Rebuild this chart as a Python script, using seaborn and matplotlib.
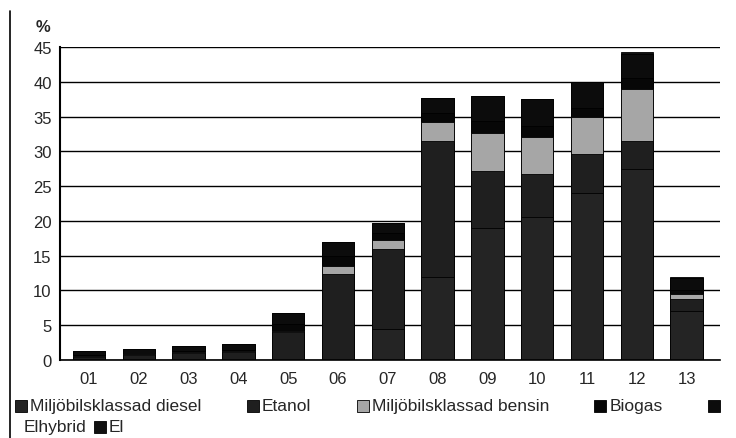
import matplotlib
matplotlib.use('Agg')
import matplotlib.pyplot as plt
import seaborn as sns
import numpy as np
import pandas as pd
from matplotlib.patches import Rectangle
from matplotlib.lines import Line2D

# data (andel %)
years = ['01', '02', '03', '04', '05', '06', '07', '08', '09', '10', '11', '12', '13']
diesel = [0, 0, 0, 0, 0, 0, 4.5, 12.0, 19.0, 20.5, 24.0, 27.5, 7.0]
etanol = [0.5, 0.7, 1.0, 1.2, 4.0, 12.3, 11.4, 19.5, 8.2, 6.2, 5.6, 4.0, 1.8]
bensin = [0.1, 0.1, 0.1, 0.1, 0.2, 1.2, 1.4, 2.7, 5.5, 5.4, 5.4, 7.5, 0.7]
biogas = [0.1, 0.1, 0.2, 0.2, 1.0, 1.5, 1.0, 1.3, 1.6, 1.5, 1.3, 1.6, 0.6]
elhybrid = [0.6, 0.7, 0.7, 0.8, 1.6, 2.0, 1.4, 2.2, 3.6, 3.9, 3.7, 3.4, 1.7]
el = [0, 0, 0, 0, 0, 0, 0, 0, 0, 0, 0, 0.3, 0.2]

names = ['Miljöbilsklassad diesel', 'Etanol', 'Miljöbilsklassad bensin', 'Biogas', 'Elhybrid', 'El']
colors = ['#242424', '#1f1f1f', '#a6a6a6', '#070707', '#0c0c0c', '#111111']

sns.set_style('white')
plt.rcParams['font.family'] = ['Liberation Sans', 'DejaVu Sans']

df = pd.DataFrame({'year': years, names[0]: diesel, names[1]: etanol, names[2]: bensin,
                   names[3]: biogas, names[4]: elhybrid, names[5]: el})
cum = df[names].cumsum(axis=1)

fig = plt.figure(figsize=(7.36, 4.39), dpi=100)
ax = fig.add_axes([60/736, 78/439, 660/736, 313/439])

# stapla genom att rita kumulativa summor uppifrån och ned
for name, c in reversed(list(zip(names, colors))):
    sns.barplot(x=df['year'], y=cum[name], color=c, width=0.65, saturation=1,
                edgecolor='black', linewidth=0.6, ax=ax, zorder=2)

ax.set_ylim(0, 45)
ax.set_xlim(-0.58, 12.67)
ax.set_yticks(np.arange(0, 46, 5))
ax.set_xticks(np.arange(-0.5, 13, 1), minor=True)
ax.set_xlabel('')
ax.set_ylabel('')
ax.set_axisbelow(True)
ax.yaxis.grid(True, color='black', linewidth=1.0)
ax.xaxis.grid(False)

for s in ['top', 'right']:
    ax.spines[s].set_visible(False)
ax.spines['left'].set_color('black')
ax.spines['left'].set_linewidth(1.5)
ax.spines['bottom'].set_color('black')
ax.spines['bottom'].set_linewidth(1.2)

ax.tick_params(axis='y', length=5, width=1, color='black', pad=1, labelsize=12)
ax.tick_params(axis='x', which='major', length=0, pad=8, labelsize=12)
ax.tick_params(axis='x', which='minor', length=5, width=1.2, color='black', direction='out')

fig.text(43/736, 1 - 28/439, '%', ha='center', va='center', fontsize=12, fontweight='bold')

# vänster kantlinje från inskanningen
fig.add_artist(Line2D([10/736, 10/736], [0, 1 - 12/439], color='black', linewidth=1.2))

# legend som löpande text över två rader
fig.canvas.draw()
renderer = fig.canvas.get_renderer()
W, H = 736, 439
fs = 12.5
sq = 12


def put_square(x, y, c):
    fig.add_artist(Rectangle((x / W, (H - y - sq / 2) / H), sq / W, sq / H,
                             facecolor=c, edgecolor='black', linewidth=0.6,
                             transform=fig.transFigure))
    return x + sq + 3


def put_text(x, y, s):
    t = fig.text(x / W, 1 - y / H, s, ha='left', va='center', fontsize=fs)
    bb = t.get_window_extent(renderer)
    return x + bb.width


row1 = 407
row2 = 428
# mät textbredder för att sprida första raden ut till högerkanten
widths = []
for s in names[:4]:
    t = fig.text(0, 0, s, fontsize=fs)
    widths.append(t.get_window_extent(renderer).width)
    t.remove()
start, last = 15, 708
gap = (last - start - sum(widths) - 4 * (sq + 3)) / 4

x = start
for i in range(4):
    x = put_square(x, row1, colors[i])
    x = put_text(x, row1, names[i])
    x += gap
put_square(x, row1, colors[4])

x = 24
x = put_text(x, row2, names[4])
x += 7
x = put_square(x, row2, colors[5])
put_text(x, row2, names[5])

fig.savefig('out.png', dpi=100, facecolor='white')
